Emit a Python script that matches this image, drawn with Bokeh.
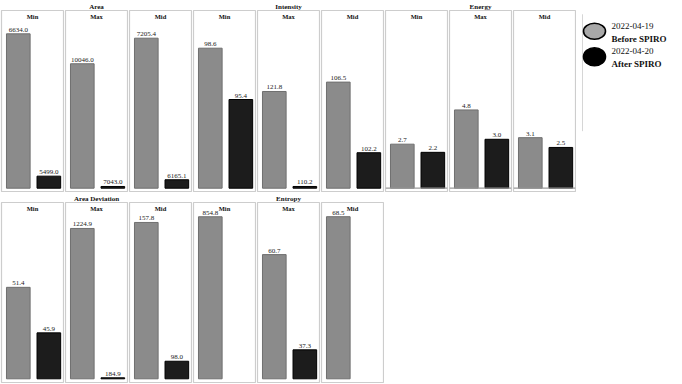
from bokeh.plotting import figure
from bokeh.models import Range1d, LabelSet, Label, ColumnDataSource, Span, Title
from bokeh.layouts import row, column
from bokeh.embed import file_html
from bokeh.resources import INLINE
from bokeh.core.properties import value

FONT = "Liberation Serif"

# ---- data ----
stats = ["Min", "Max", "Mid"]
series_dates = ["2022-04-19", "2022-04-20"]
series_desc = ["Before SPIRO", "After SPIRO"]

area_before = [6634.0, 10046.0, 7205.4]
area_after = [5499.0, 7043.0, 6165.1]
intensity_before = [98.6, 121.8, 106.5]
intensity_after = [95.4, 110.2, 102.2]
energy_before = [2.7, 4.8, 3.1]
energy_after = [2.2, 3.0, 2.5]
area_dev_before = [51.4, 1224.9, 157.8]
area_dev_after = [45.9, 184.9, 98.0]
entropy_before = [854.8, 60.7, 68.5]
entropy_after = [None, 37.3, None]

# per-panel axis limits (value at bar baseline, value at top of panel box)
area_axis = [(5403.0, 6820.0), (7001.0, 11349.0), (6103.0, 7409.0)]
intensity_axis = [(89.87, 100.95), (109.99, 131.69), (100.04, 110.86)]
energy_axis = [(0.0, 10.9), (0.0, 10.9), (0.0, 10.9)]
area_dev_axis = [(40.35, 61.65), (177.95, 1405.7), (90.43, 166.4)]
entropy_axis = [(0.0, 930.0), (30.18, 73.5), (0.0, 74.5)]

top_groups = [("Area", area_before, area_after, area_axis, False),
              ("Intensity", intensity_before, intensity_after, intensity_axis, False),
              ("Energy", energy_before, energy_after, energy_axis, True)]
bottom_groups = [("Area Deviation", area_dev_before, area_dev_after, area_dev_axis, False),
                 ("Entropy", entropy_before, entropy_after, entropy_axis, False)]

GRAY_FILL, GRAY_LINE = "#8b8b8b", "#6f6f6f"
BLACK_FILL, BLACK_LINE = "#1c1c1c", "#000000"
PW = 64
XS, XE = -0.55, 1.48
BAR_W = 0.774


def panel(stat, vb, va, lo, hi, height, border_bottom, pad_px, span_px,
          group_title=None, zero_line=False):
    pad = (hi - lo) * pad_px / span_px
    p = figure(width=PW, height=height, x_range=Range1d(XS, XE), y_range=Range1d(lo - pad, hi),
               output_backend="svg", toolbar_location=None,
               x_axis_location=None, y_axis_location=None,
               min_border_left=1, min_border_right=1, min_border_top=10,
               min_border_bottom=border_bottom)
    p.grid.visible = False
    p.outline_line_color = "#cdcdcd"
    p.outline_line_width = 1.2
    p.background_fill_color = "white"
    p.border_fill_color = "white"
    if group_title:
        p.title = Title(text=group_title, align="center", text_font=FONT, text_font_size="7px",
                        text_font_style="bold", text_color="#111111", standoff=0, offset=0)
    else:
        p.title = None

    xs, tops, fills, lines, labels = [], [], [], [], []
    for i, (v, fc, lc) in enumerate([(vb, GRAY_FILL, GRAY_LINE), (va, BLACK_FILL, BLACK_LINE)]):
        if v is None:
            continue
        xs.append(i); tops.append(v); fills.append(fc); lines.append(lc)
        labels.append(f"{v:.1f}")
    src = ColumnDataSource(dict(x=xs, top=tops, fill=fills, line=lines, label=labels))
    if zero_line:
        p.add_layout(Span(location=0, dimension="width", line_color="#9a9a9a", line_width=1.2))
    p.vbar(x="x", top="top", bottom=lo, width=BAR_W, fill_color="fill", line_color="line",
           line_width=1, source=src)
    p.add_layout(LabelSet(x="x", y="top", text="label", source=src, text_align="center",
                          text_baseline="bottom", y_offset=2, text_font=value(FONT),
                          text_font_size=value("7px"), text_color="#222222"))
    xc = (XS + XE) / 2
    p.add_layout(Label(x=xc, y=hi, text=stat, text_align="center", text_baseline="top",
                       y_offset=-2, text_font=FONT, text_font_size="6.5px",
                       text_font_style="bold", text_color="#111111"))
    return p


def build_row(groups, height, border_bottom, pad_px, span_px):
    figs = []
    for name, before, after, axis, zl in groups:
        for k, stat in enumerate(stats):
            lo, hi = axis[k]
            figs.append(panel(stat, before[k], after[k], lo, hi, height, border_bottom,
                              pad_px, span_px, group_title=name if k == 1 else None,
                              zero_line=zl))
    return figs


top_figs = build_row(top_groups, 192, 1, 3.3, 177.7)
bottom_figs = build_row(bottom_groups, 192, 2, 3.7, 176.6)

# ---- legend ----
LH = 192
leg = figure(width=106, height=LH, x_range=Range1d(0, 106), y_range=Range1d(LH, 0),
             output_backend="svg", toolbar_location=None,
             x_axis_location=None, y_axis_location=None,
             min_border_left=0, min_border_right=0, min_border_top=0, min_border_bottom=0)
leg.grid.visible = False
leg.outline_line_color = None
leg.segment(x0=[6], y0=[4], x1=[6], y1=[128], line_color="#d6d6d6", line_width=1)
leg.ellipse(x=[18, 18], y=[22, 49], width=[22, 22], height=[17, 19],
            fill_color=["#a8a8a8", "#000000"], line_color="#000000", line_width=1.6)
leg.text(x=[35, 35], y=[16, 43], text=series_dates, text_font=value(FONT),
         text_font_size=value("9px"), text_baseline="middle", text_color="#111111")
leg.text(x=[35, 35], y=[30, 57], text=series_desc, text_font=value(FONT),
         text_font_size=value("9px"), text_font_style="bold", text_baseline="middle",
         text_color="#111111")

layout = column(row(*top_figs, leg), row(*bottom_figs))

open("out.html", "w").write(file_html(layout, INLINE))
